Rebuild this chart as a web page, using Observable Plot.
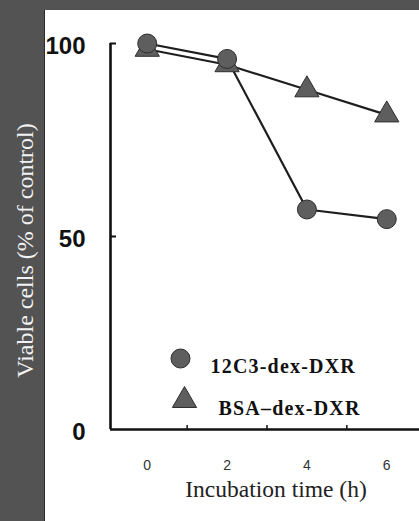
<!DOCTYPE html>
<html>
<head>
<meta charset="utf-8">
<script src="https://cdn.jsdelivr.net/npm/d3@7"></script>
<script src="https://cdn.jsdelivr.net/npm/@observablehq/plot@0.6"></script>
<style>
  html, body { margin: 0; padding: 0; background: #ffffff; }
  #wrap { position: relative; width: 419px; height: 521px; background: #535353; overflow: hidden; }
  #paper { position: absolute; left: 44px; top: 10px; right: 0; bottom: 0; background: #ffffff; border-left: 1px solid #2a2a2a; }
  #chart { position: absolute; left: 0; top: 0; }
</style>
</head>
<body>
<div id="wrap"><div id="paper"></div><div id="chart"></div></div>
<script>
// ---- data ----
const hours = [0, 2, 4, 6];
const series = ["12C3-dex-DXR", "BSA–dex-DXR"];
const viable12C3 = [100, 96, 57, 54.5];
const viableBSA = [98.5, 94.5, 88, 81.5];
const yTicks = [0, 50, 100];
const yMarkTicks = [50, 100];
const xTickLabels = [0, 2, 4, 6];
const xMinorTicks = [1, 3, 5];
const xDomain = [-0.92, 6.82];
const yDomain = [0, 100];
const yLabel = "Viable cells (% of control)";
const xLabel = "Incubation time (h)";

const d12 = hours.map((h, i) => ({hour: h, value: viable12C3[i], series: series[0]}));
const dBSA = hours.map((h, i) => ({hour: h, value: viableBSA[i], series: series[1]}));

const markerFill = "#5e5e5e";
const markerStroke = "#2e2e2e";
const sans = "'Liberation Sans Narrow', 'Arial Narrow', 'Liberation Sans', sans-serif";
const sansThin = "'Liberation Sans', Arial, sans-serif";
const serif = "'Liberation Serif', 'Times New Roman', serif";

const chart = Plot.plot({
  width: 419,
  height: 521,
  marginLeft: 110,
  marginRight: 0,
  marginTop: 43,
  marginBottom: 92,
  style: {background: "transparent", overflow: "visible"},
  x: {domain: xDomain, axis: null},
  y: {domain: yDomain, axis: null},
  marks: [
    Plot.line(dBSA, {x: "hour", y: "value", stroke: "#1e1e1e", strokeWidth: 2.2}),
    Plot.line(d12, {x: "hour", y: "value", stroke: "#1e1e1e", strokeWidth: 2.2}),
    Plot.dot(dBSA, {x: "hour", y: "value", symbol: "triangle", r: 9, fill: markerFill, stroke: markerStroke, strokeWidth: 1}),
    Plot.dot(d12, {x: "hour", y: "value", symbol: "circle", r: 9.5, fill: markerFill, stroke: markerStroke, strokeWidth: 1}),
    Plot.ruleX([xDomain[0]], {stroke: "#111", strokeWidth: 2.6}),
    Plot.ruleY([yDomain[0]], {stroke: "#111", strokeWidth: 2.6}),
    Plot.tickY(yMarkTicks, {y: d => d, insetRight: 303, stroke: "#111", strokeWidth: 2}),
    Plot.tickX(xMinorTicks, {x: d => d, insetTop: 382, stroke: "#111", strokeWidth: 1.5}),
    Plot.axisY({ticks: yTicks, tickSize: 0, tickPadding: 25, dy: 3, fontSize: 24, fontWeight: "bold", fontFamily: sans, fill: "#111", label: null}),
    Plot.axisX({ticks: xTickLabels, tickSize: 0, tickPadding: 31, fontSize: 14, fontFamily: sansThin, fill: "#333", label: null}),
    Plot.text([xLabel], {frameAnchor: "bottom", dx: 11, dy: 67, fontSize: 23.5, fontFamily: serif, fill: "#222"}),
    Plot.text([yLabel], {frameAnchor: "left", textAnchor: "middle", dx: -85, dy: 14, rotate: -90, fontSize: 24, fontFamily: serif, fill: "#f2f2f2"}),
    // legend
    Plot.dot([series[0]], {frameAnchor: "top-left", dx: 70, dy: 315, symbol: "circle", r: 9.5, fill: markerFill, stroke: markerStroke, strokeWidth: 1}),
    Plot.dot([series[1]], {frameAnchor: "top-left", dx: 74, dy: 357, symbol: "triangle", r: 9, fill: markerFill, stroke: markerStroke, strokeWidth: 1}),
    Plot.text([series[0]], {frameAnchor: "top-left", dx: 100, dy: 315, textAnchor: "start", fontSize: 20, fontWeight: "bold", fontFamily: serif, fill: "#111"}),
    Plot.text([series[1]], {frameAnchor: "top-left", dx: 108, dy: 357, textAnchor: "start", fontSize: 20, fontWeight: "bold", fontFamily: serif, fill: "#111"})
  ]
});

d3.select(chart).selectAll("text").filter(function() {
  return series.includes(this.textContent);
}).style("letter-spacing", "1.2px");

document.getElementById("chart").appendChild(chart);
</script>
</body>
</html>
